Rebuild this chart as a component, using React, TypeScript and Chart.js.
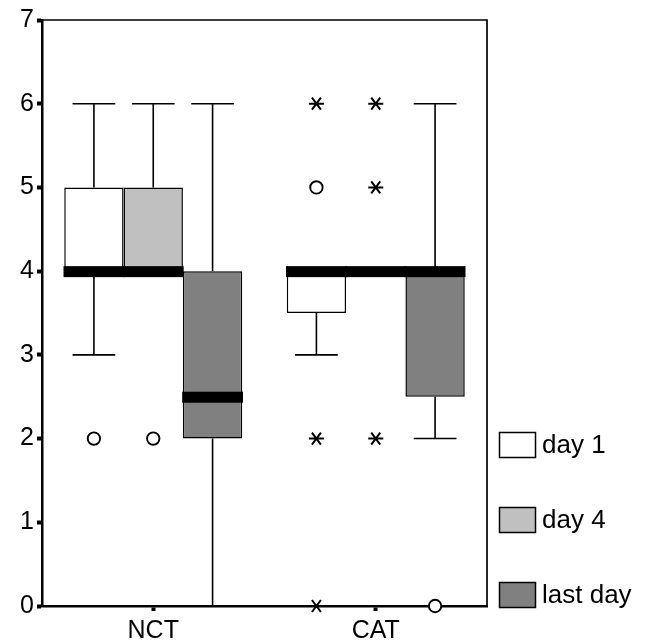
import { useEffect, useRef } from 'react';
import { Chart, registerables } from 'chart.js';

Chart.register(...registerables);

const categories = ['NCT', 'CAT'];
const seriesLabels = ['day 1', 'day 4', 'last day'];
const seriesColors = ['#ffffff', '#c0c0c0', '#808080'];
const yTickValues = [0, 1, 2, 3, 4, 5, 6, 7];

// day 1
const day1Q1 = [4, 3.5];
const day1Q3 = [5, 4];
const day1Median = [4, 4];
const day1Low = [3, 3];
const day1High = [6, 4];
const day1Outliers = [[2], [5]];
const day1Extremes = [[], [6, 2, 0]];

// day 4
const day4Q1 = [4, 4];
const day4Q3 = [5, 4];
const day4Median = [4, 4];
const day4Low = [4, 4];
const day4High = [6, 4];
const day4Outliers = [[2], []];
const day4Extremes = [[], [6, 5, 2]];

// last day
const lastQ1 = [2, 2.5];
const lastQ3 = [4, 4];
const lastMedian = [2.5, 4];
const lastLow = [0, 2];
const lastHigh = [6, 6];
const lastOutliers = [[], [0]];
const lastExtremes = [[], []];

const FONT = '"Liberation Sans", Arial, Helvetica, sans-serif';

function makeDataset(label: string, color: string, q1: number[], q3: number[], median: number[], low: number[], high: number[], outliers: number[][], extremes: number[][]) {
  return {
    label,
    data: categories.map((_, i) => [q1[i], q3[i]]),
    backgroundColor: color,
    borderColor: '#000000',
    borderWidth: 1.5,
    borderSkipped: false,
    q1, q3, median, low, high, outliers, extremes,
  } as any;
}

const framePlugin = {
  id: 'frame',
  beforeDatasetsDraw(chart: any) {
    const { ctx, chartArea } = chart;
    ctx.save();
    ctx.strokeStyle = '#000';
    ctx.lineWidth = 1.7;
    ctx.beginPath();
    ctx.moveTo(chartArea.left, chartArea.top);
    ctx.lineTo(chartArea.right, chartArea.top);
    ctx.lineTo(chartArea.right, chartArea.bottom);
    ctx.stroke();
    ctx.restore();
  },
};

const boxplotPlugin = {
  id: 'boxplotExtras',
  afterDatasetsDraw(chart: any) {
    const { ctx } = chart;
    const ys = chart.scales.y;
    ctx.save();
    chart.data.datasets.forEach((ds: any, di: number) => {
      const meta = chart.getDatasetMeta(di);
      meta.data.forEach((bar: any, i: number) => {
        const { x, width } = bar.getProps(['x', 'width'], true);
        const capW = width * 0.72;
        ctx.strokeStyle = '#000';
        ctx.lineWidth = 1.6;
        const q1p = ys.getPixelForValue(ds.q1[i]);
        const q3p = ys.getPixelForValue(ds.q3[i]);
        if (ds.high[i] > ds.q3[i]) {
          const hp = ys.getPixelForValue(ds.high[i]);
          ctx.beginPath();
          ctx.moveTo(x, q3p);
          ctx.lineTo(x, hp);
          ctx.moveTo(x - capW / 2, hp);
          ctx.lineTo(x + capW / 2, hp);
          ctx.stroke();
        }
        if (ds.low[i] < ds.q1[i]) {
          const lp = ys.getPixelForValue(ds.low[i]);
          ctx.beginPath();
          ctx.moveTo(x, q1p);
          ctx.lineTo(x, lp);
          ctx.moveTo(x - capW / 2, lp);
          ctx.lineTo(x + capW / 2, lp);
          ctx.stroke();
        }
      });
    });
    chart.data.datasets.forEach((ds: any, di: number) => {
      const meta = chart.getDatasetMeta(di);
      meta.data.forEach((bar: any, i: number) => {
        const { x, width } = bar.getProps(['x', 'width'], true);
        const mp = ys.getPixelForValue(ds.median[i]);
        ctx.fillStyle = '#000';
        ctx.fillRect(x - width / 2 - 0.75, mp - 5, width + 1.5, 11);
      });
    });
    chart.data.datasets.forEach((ds: any, di: number) => {
      const meta = chart.getDatasetMeta(di);
      meta.data.forEach((bar: any, i: number) => {
        const { x } = bar.getProps(['x'], true);
        ds.outliers[i].forEach((v: number) => {
          const p = ys.getPixelForValue(v);
          ctx.beginPath();
          ctx.arc(x, p, 6.2, 0, Math.PI * 2);
          ctx.fillStyle = '#fff';
          ctx.fill();
          ctx.lineWidth = 1.9;
          ctx.strokeStyle = '#000';
          ctx.stroke();
        });
        ds.extremes[i].forEach((v: number) => {
          const p = ys.getPixelForValue(v);
          ctx.beginPath();
          ctx.lineWidth = 2;
          ctx.strokeStyle = '#000';
          ctx.moveTo(x - 7.5, p);
          ctx.lineTo(x + 7.5, p);
          ctx.moveTo(x - 4.5, p - 6);
          ctx.lineTo(x + 4.5, p + 6);
          ctx.moveTo(x - 4.5, p + 6);
          ctx.lineTo(x + 4.5, p - 6);
          ctx.stroke();
        });
      });
    });
    ctx.restore();
  },
};

const legendPlugin = {
  id: 'sideLegend',
  afterDraw(chart: any) {
    const { ctx, chartArea } = chart;
    const n = chart.data.datasets.length;
    ctx.save();
    ctx.font = `26px ${FONT}`;
    ctx.textBaseline = 'middle';
    ctx.textAlign = 'left';
    chart.data.datasets.forEach((ds: any, i: number) => {
      const cy = chartArea.bottom - 11 - (n - 1 - i) * 75;
      const bx = chartArea.right + 12.5;
      ctx.fillStyle = ds.backgroundColor;
      ctx.fillRect(bx, cy - 12.5, 36, 25);
      ctx.strokeStyle = '#000';
      ctx.lineWidth = 1.5;
      ctx.strokeRect(bx, cy - 12.5, 36, 25);
      ctx.fillStyle = '#000';
      ctx.fillText(ds.label, bx + 42.5, cy + 1);
    });
    ctx.restore();
  },
};

export default function App() {
  const ref = useRef<HTMLCanvasElement | null>(null);
  useEffect(() => {
    document.body.style.margin = '0';
    if (!ref.current) return;
    const chart = new Chart(ref.current, {
      type: 'bar',
      data: {
        labels: categories,
        datasets: [
          makeDataset(seriesLabels[0], seriesColors[0], day1Q1, day1Q3, day1Median, day1Low, day1High, day1Outliers, day1Extremes),
          makeDataset(seriesLabels[1], seriesColors[1], day4Q1, day4Q3, day4Median, day4Low, day4High, day4Outliers, day4Extremes),
          makeDataset(seriesLabels[2], seriesColors[2], lastQ1, lastQ3, lastMedian, lastLow, lastHigh, lastOutliers, lastExtremes),
        ],
      },
      options: {
        responsive: false,
        animation: false,
        layout: { padding: { top: 20, right: 160, left: 0, bottom: 0 } },
        datasets: { bar: { categoryPercentage: 0.8, barPercentage: 1.0 } },
        plugins: { legend: { display: false }, tooltip: { enabled: false } },
        scales: {
          x: {
            offset: true,
            grid: { offset: false, drawOnChartArea: false, tickLength: 5, tickWidth: 4, tickColor: '#000' },
            border: { display: true, color: '#000', width: 2.5 },
            ticks: { color: '#000', font: { family: FONT, size: 25 }, padding: 5 },
            afterFit: (s: any) => { s.height = 35; },
          },
          y: {
            min: 0,
            max: 7,
            afterBuildTicks: (s: any) => { s.ticks = yTickValues.map((v) => ({ value: v })); },
            grid: { drawOnChartArea: false, tickLength: 5, tickWidth: 4, tickColor: '#000' },
            border: { display: true, color: '#000', width: 2.5 },
            ticks: { color: '#000', font: { family: FONT, size: 25 }, padding: 3 },
            afterFit: (s: any) => { s.width = 42; },
          },
        },
      } as any,
      plugins: [framePlugin, boxplotPlugin, legendPlugin],
    });
    return () => chart.destroy();
  }, []);
  return <canvas ref={ref} width={647} height={641} style={{ display: 'block' }} />;
}
